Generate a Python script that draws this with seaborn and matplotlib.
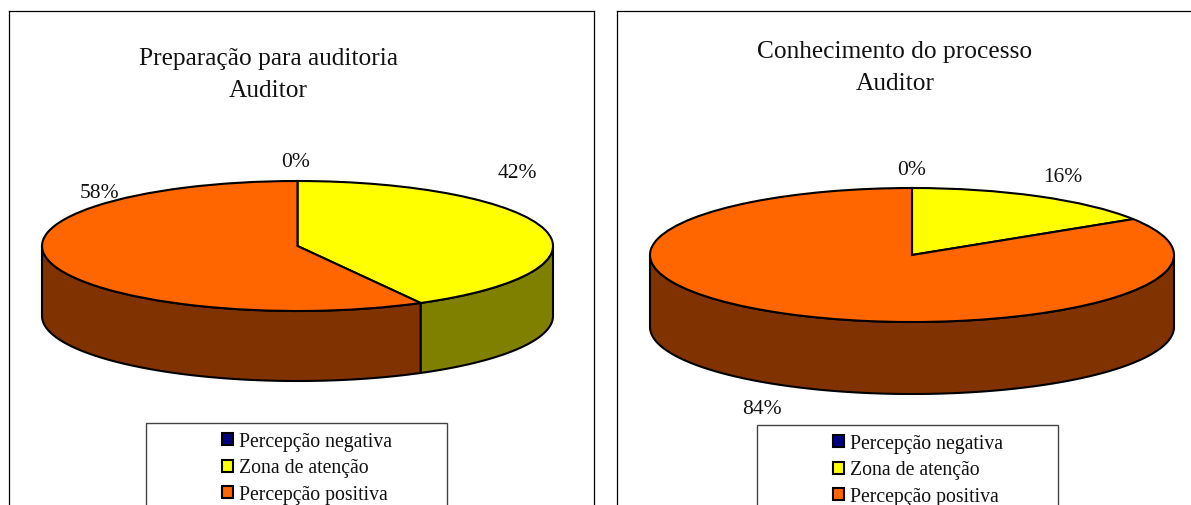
import numpy as np
import seaborn as sns
import matplotlib.pyplot as plt
from matplotlib.patches import Rectangle

categories = ['Percepção negativa', 'Zona de atenção', 'Percepção positiva']
titles = ['Preparação para auditoria\nAuditor', 'Conhecimento do processo\nAuditor']
shares_preparacao = [0, 42, 58]
shares_conhecimento = [0, 16, 84]

top_colors = ['#000080', '#FFFF00', '#FF6600']
side_colors = ['#000040', '#808000', '#803300']

W, H = 1191, 506

sns.set_theme(style='white')
plt.rcParams['font.family'] = ['Liberation Serif', 'DejaVu Sans']


def draw_panel(fig, shares, title, panel, pie, title_xy, label_xy, legend_box):
    x0, x1, y0, y1 = panel
    cx, cy, rx, ry, depth = pie

    ax = fig.add_axes([x0 / W, 1 - y1 / H, (x1 - x0) / W, (y1 - y0) / H])

    # pixel position -> pie units, the axes is stretched so the circle is flat
    def px(x, y):
        return (x - cx) / rx, (cy - y) / ry

    wedges, _ = ax.pie(shares, colors=top_colors, startangle=90, counterclock=False,
                       wedgeprops={'edgecolor': 'black', 'linewidth': 1.5, 'zorder': 3})

    # side wall, only the part of each slice facing the viewer
    d = depth / ry
    edges = 90 - 360 * np.cumsum([0] + shares) / sum(shares)
    for i in range(len(shares)):
        hi = min(edges[i], 0)
        lo = max(edges[i + 1], -180)
        if hi <= lo:
            continue
        t = np.radians(np.linspace(lo, hi, 120))
        xs = np.concatenate([np.cos(t), np.cos(t[::-1])])
        ys = np.concatenate([np.sin(t), np.sin(t[::-1]) - d])
        ax.fill(xs, ys, facecolor=side_colors[i], edgecolor='black', linewidth=1.5, zorder=2)

    ax.set_xlim(px(x0, 0)[0], px(x1, 0)[0])
    ax.set_ylim(px(0, y1)[1], px(0, y0)[1])
    ax.set_aspect('auto')
    ax.set_frame_on(True)
    for s in ax.spines.values():
        s.set_color('black')
        s.set_linewidth(0.9)

    tx, ty = px(*title_xy)
    ax.text(tx, ty, title, ha='center', va='center', fontsize=18.3, color='#111111',
            linespacing=1.55)

    for v, xy in zip(shares, label_xy):
        lx, ly = px(*xy)
        ax.text(lx, ly, '{:.0f}%'.format(v), ha='center', va='center', fontsize=15.5,
                color='#111111', zorder=5)

    bx0, by0, bx1, by1 = legend_box
    a, b = px(bx0, by1)
    c, e = px(bx1, by0)
    ax.add_patch(Rectangle((a, b), c - a, e - b, facecolor='white', edgecolor='#444444',
                           linewidth=1.0, zorder=4))
    lx, ly = px(bx0 + 76, by0 + 9)
    leg = ax.legend(wedges, categories, loc='upper left', bbox_to_anchor=(lx, ly),
                    bbox_transform=ax.transData, frameon=False, fontsize=14.2,
                    borderpad=0, borderaxespad=0, labelspacing=0.38, handlelength=0.56,
                    handleheight=0.56, handletextpad=0.32)
    leg.set_zorder(6)
    for t in leg.get_texts():
        t.set_color('#111111')


fig = plt.figure(figsize=(W / 100, H / 100), dpi=100, facecolor='white')

draw_panel(fig, shares_preparacao, titles[0],
           panel=(9, 594, 12, 530),
           pie=(297.5, 247, 255.5, 65, 70),
           title_xy=(268.5, 75),
           label_xy=[(296, 163), (517, 174), (99, 194)],
           legend_box=(146, 424, 447, 540))

draw_panel(fig, shares_conhecimento, titles[1],
           panel=(617, 1200, 12, 530),
           pie=(912, 256, 262, 67, 72),
           title_xy=(895, 68),
           label_xy=[(912, 171), (1063, 178), (762, 409)],
           legend_box=(757, 426, 1058, 540))

fig.savefig('out.png', dpi=100)
